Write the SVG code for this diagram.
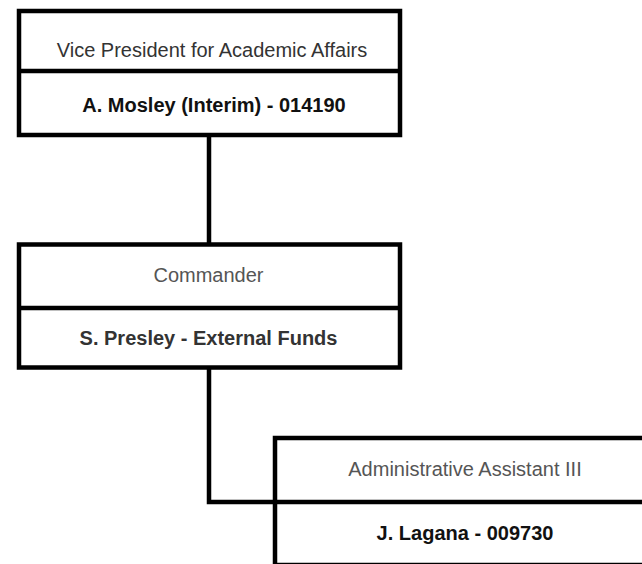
<svg xmlns="http://www.w3.org/2000/svg" width="642" height="564" viewBox="0 0 642 564">
<style>
.box{fill:#fff;stroke:#000;stroke-width:4.5}
.div{stroke:#000;stroke-width:4.5}
.t{font-family:"Liberation Sans",Arial,sans-serif;font-size:20px;text-anchor:middle}
.b{font-weight:bold}
.conn{fill:none;stroke:#000;stroke-width:4.5}
</style>
<rect width="642" height="564" fill="#fff"/>
<g id="connectors">
<path class="conn" d="M209,135 V244.5"/>
<path class="conn" d="M209,367.5 V502 H275"/>
</g>
<g id="node-vp">
<rect class="box" x="19" y="11" width="381" height="124"/>
<line class="div" x1="19" y1="71" x2="400" y2="71"/>
<text class="t" x="212" y="57" fill="#333">Vice President for Academic Affairs</text>
<text class="t b" x="214" y="112" fill="#111">A. Mosley (Interim) - 014190</text>
</g>
<g id="node-commander">
<rect class="box" x="19" y="244.5" width="381" height="123"/>
<line class="div" x1="19" y1="308" x2="400" y2="308"/>
<text class="t" x="208.5" y="282" fill="#555">Commander</text>
<text class="t b" x="208.5" y="345" fill="#333">S. Presley - External Funds</text>
</g>
<g id="node-assistant">
<rect class="box" x="275" y="438" width="381" height="127"/>
<line class="div" x1="275" y1="502" x2="656" y2="502"/>
<text class="t" x="465" y="476" fill="#555">Administrative Assistant III</text>
<text class="t b" x="465" y="540" fill="#111">J. Lagana - 009730</text>
</g>
</svg>
